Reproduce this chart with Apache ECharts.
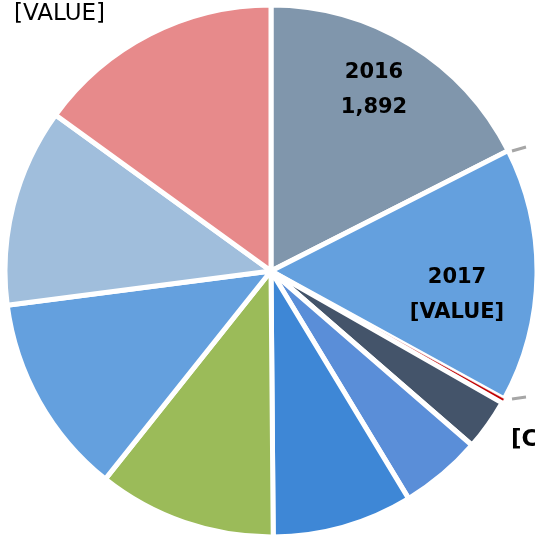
<!DOCTYPE html>
<html>
<head>
<meta charset="utf-8">
<script src="https://cdn.jsdelivr.net/npm/echarts@6/dist/echarts.min.js"></script>
<style>
html,body{margin:0;padding:0;background:#fff;}
#main{width:535px;height:537px;}
</style>
</head>
<body>
<div id="main"></div>
<script>
// slice order clockwise from 12 o'clock
var categories = ['2016', '2017', '2018', '2019', '2020', '2021', '2022', '2023', '2024', '2025'];
var values = [1892, 1668, 30, 336, 537, 920, 1170, 1322, 1298, 1622];
var colors = ['#8096AC', '#64A0DE', '#C00000', '#44546A', '#5A8ED8', '#3E87D6', '#9BBB59', '#64A0DE', '#A0BEDC', '#E78A8B'];

var myChart = echarts.init(document.getElementById('main'));

// where Excel put the visible data labels
var labelSpots = { 0: [374, 90], 1: [457, 295], 2: [511, 440], 9: [105, 14] };

var boldLabel = {
    show: true,
    position: 'inside',
    fontFamily: 'DejaVu Sans',
    fontWeight: 'bold',
    fontSize: 21,
    lineHeight: 35,
    color: '#000',
    formatter: function (p) {
        var v = p.dataIndex === 0 ? p.value.toLocaleString('en-US') : '[VALUE]';
        return p.name + '\n' + v;
    }
};

var pieData = values.map(function (v, i) {
    var item = { name: categories[i], value: v, itemStyle: { color: colors[i] } };
    if (i === 0 || i === 1) {
        item.label = boldLabel;
    } else if (i === 2) {
        item.itemStyle.borderWidth = 0.5;
        item.label = {
            show: true, position: 'outside', align: 'left',
            fontFamily: 'DejaVu Sans', fontWeight: 'bold', fontSize: 23, color: '#000',
            formatter: '[CATEGORY NAME]'
        };
    } else if (i === 9) {
        item.label = {
            show: true, position: 'outside',
            fontFamily: 'DejaVu Sans', fontSize: 23, color: '#000',
            formatter: '[VALUE]'
        };
    }
    return item;
});

var option = {
    animation: false,
    series: [{
        type: 'pie',
        center: [271, 271],
        radius: 266,
        startAngle: 90,
        clockwise: true,
        avoidLabelOverlap: false,
        silent: true,
        itemStyle: { borderColor: '#fff', borderWidth: 5 },
        label: { show: false },
        labelLine: { show: false },
        labelLayout: function (p) {
            var s = labelSpots[p.dataIndex];
            if (!s) return {};
            return { x: s[0], y: s[1], verticalAlign: 'middle' };
        },
        data: pieData
    }],
    graphic: [
        { type: 'line', shape: { x1: 512, y1: 151, x2: 526, y2: 147 }, style: { stroke: '#A6A6A6', lineWidth: 3 } },
        { type: 'line', shape: { x1: 512, y1: 399, x2: 526, y2: 397 }, style: { stroke: '#A6A6A6', lineWidth: 3 } }
    ]
};

myChart.setOption(option);
</script>
</body>
</html>
